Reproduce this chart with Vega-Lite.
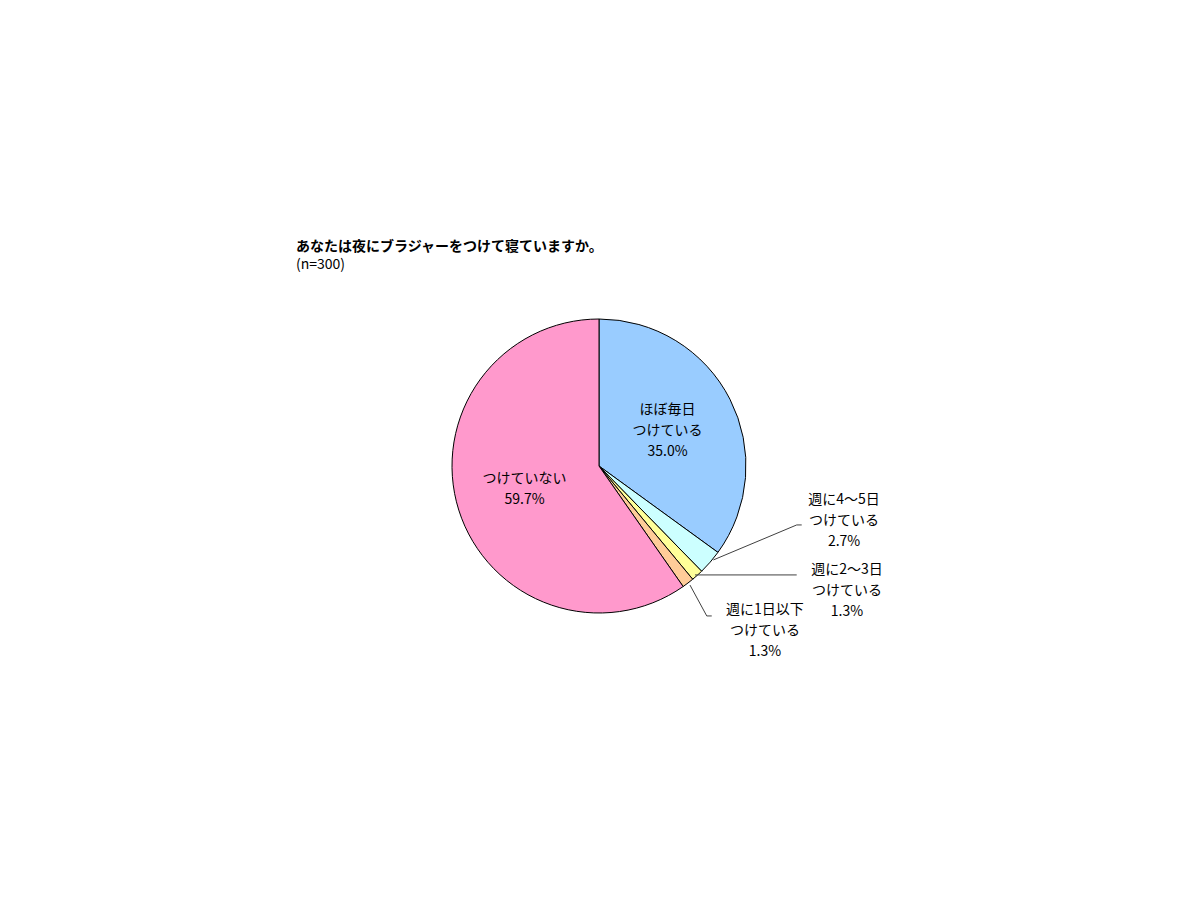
{
  "$schema": "https://vega.github.io/schema/vega-lite/v6.json",
  "width": 294,
  "height": 294,
  "autosize": {"type": "none"},
  "padding": {"left": 452, "top": 319, "right": 454, "bottom": 287},
  "background": "white",
  "config": {"view": {"stroke": null}, "font": "Noto Sans CJK JP"},
  "title": {
    "text": "あなたは夜にブラジャーをつけて寝ていますか。",
    "subtitle": "(n=300)",
    "anchor": "start",
    "dx": -154,
    "offset": 45,
    "fontSize": 14,
    "fontWeight": "bold",
    "subtitleFontSize": 14,
    "subtitlePadding": 4,
    "color": "#000000",
    "subtitleColor": "#000000",
    "font": "Noto Sans CJK JP",
    "subtitleFont": "Noto Sans CJK JP"
  },
  "datasets": {
    "slices": [
      {"category": "ほぼ毎日つけている", "label": "ほぼ毎日\nつけている\n35.0%", "share": 35.0, "order": 1},
      {"category": "週に4～5日つけている", "label": "", "share": 2.7, "order": 2},
      {"category": "週に2～3日つけている", "label": "", "share": 1.3, "order": 3},
      {"category": "週に1日以下つけている", "label": "", "share": 1.3, "order": 4},
      {"category": "つけていない", "label": "つけていない\n59.7%", "share": 59.7, "order": 5}
    ],
    "leaders": [
      {"leader": "a", "step": 1, "x": 0.778, "y": -0.639},
      {"leader": "a", "step": 2, "x": 1.345, "y": -0.401},
      {"leader": "a", "step": 3, "x": 1.379, "y": -0.401},
      {"leader": "b", "step": 1, "x": 0.653, "y": -0.741},
      {"leader": "b", "step": 2, "x": 1.345, "y": -0.741},
      {"leader": "c", "step": 1, "x": 0.619, "y": -0.810},
      {"leader": "c", "step": 2, "x": 0.733, "y": -1.020},
      {"leader": "c", "step": 3, "x": 0.767, "y": -1.020}
    ],
    "outer": [
      {"text": "週に4～5日\nつけている\n2.7%", "x": 1.667, "y": -0.374},
      {"text": "週に2～3日\nつけている\n1.3%", "x": 1.687, "y": -0.850},
      {"text": "週に1日以下\nつけている\n1.3%", "x": 1.129, "y": -1.122}
    ]
  },
  "layer": [
    {
      "data": {"name": "slices"},
      "mark": {"type": "arc", "outerRadius": 147, "stroke": "#000000", "strokeWidth": 1},
      "encoding": {
        "theta": {"field": "share", "type": "quantitative", "stack": true},
        "order": {"field": "order", "type": "quantitative"},
        "color": {
          "field": "category",
          "type": "nominal",
          "scale": {
            "domain": ["ほぼ毎日つけている", "週に4～5日つけている", "週に2～3日つけている", "週に1日以下つけている", "つけていない"],
            "range": ["#99CCFF", "#CCFFFF", "#FFFF99", "#FFCC99", "#FF99CC"]
          },
          "legend": null
        }
      }
    },
    {
      "data": {"name": "slices"},
      "mark": {"type": "text", "radius": 77, "dy": -21, "lineBreak": "\n", "fontSize": 14, "lineHeight": 21, "align": "center", "baseline": "middle", "color": "#000000"},
      "encoding": {
        "theta": {"field": "share", "type": "quantitative", "stack": true},
        "order": {"field": "order", "type": "quantitative"},
        "text": {"condition": {"test": "datum.order === 1", "field": "label"}, "value": ""}
      }
    },
    {
      "data": {"name": "slices"},
      "mark": {"type": "text", "radius": 78, "dy": -10.5, "lineBreak": "\n", "fontSize": 14, "lineHeight": 21, "align": "center", "baseline": "middle", "color": "#000000"},
      "encoding": {
        "theta": {"field": "share", "type": "quantitative", "stack": true},
        "order": {"field": "order", "type": "quantitative"},
        "text": {"condition": {"test": "datum.order === 5", "field": "label"}, "value": ""}
      }
    },
    {
      "data": {"name": "leaders"},
      "mark": {"type": "line", "stroke": "#404040", "strokeWidth": 1},
      "encoding": {
        "x": {"field": "x", "type": "quantitative", "scale": {"domain": [-1, 1], "nice": false, "zero": false}, "axis": null},
        "y": {"field": "y", "type": "quantitative", "scale": {"domain": [-1, 1], "nice": false, "zero": false}, "axis": null},
        "detail": {"field": "leader", "type": "nominal"},
        "order": {"field": "step", "type": "quantitative"}
      }
    },
    {
      "data": {"name": "outer"},
      "mark": {"type": "text", "dy": -21, "lineBreak": "\n", "fontSize": 14, "lineHeight": 21, "align": "center", "baseline": "middle", "color": "#000000"},
      "encoding": {
        "x": {"field": "x", "type": "quantitative", "scale": {"domain": [-1, 1], "nice": false, "zero": false}, "axis": null},
        "y": {"field": "y", "type": "quantitative", "scale": {"domain": [-1, 1], "nice": false, "zero": false}, "axis": null},
        "text": {"field": "text", "type": "nominal"}
      }
    }
  ]
}
